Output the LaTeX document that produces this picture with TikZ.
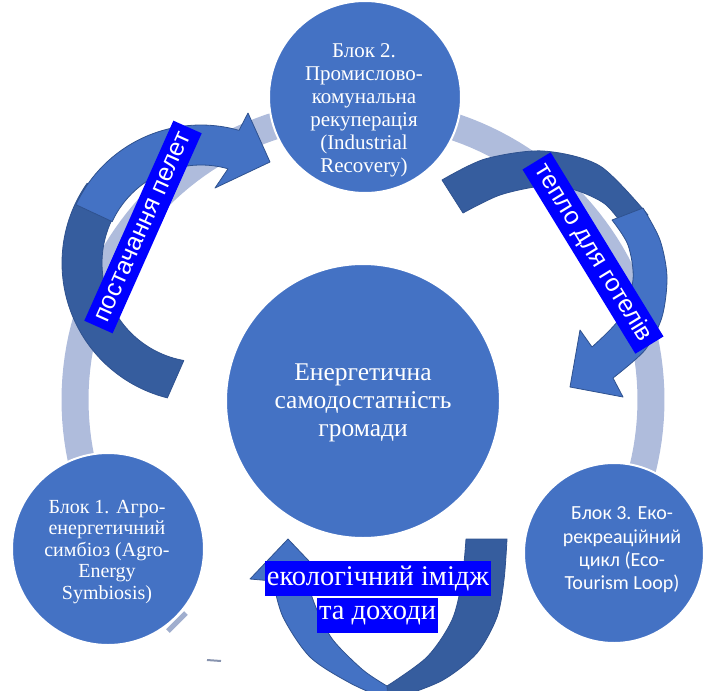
\documentclass[tikz,border=0pt]{standalone}
\usepackage{fontspec}
\setmainfont{Liberation Serif}
\newfontfamily\calib{Carlito}
\newfontfamily\lsans{Liberation Sans}
\definecolor{cblue}{RGB}{68,114,196}
\definecolor{cdark}{RGB}{54,93,158}
\definecolor{cline}{RGB}{47,82,143}
\definecolor{cring}{RGB}{175,188,220}
\definecolor{lblue}{RGB}{0,0,255}
\definecolor{csliv}{RGB}{160,174,206}
\tikzset{
  blk/.style={circle, fill=cblue, draw=white, line width=2pt, inner sep=0pt},
  txt/.style={text=white, align=center},
  lbl/.style={fill=lblue, text=white, inner xsep=2pt, inner ysep=0pt, font=\fontsize{28.5}{30}\selectfont},
  rlbl/.style={lbl, font=\lsans\fontsize{25}{27}\selectfont},
  arrL/.style={fill=cblue, draw=cline, line width=0.8pt, line join=round},
  arrD/.style={fill=cdark, draw=cline, line width=0.8pt, line join=round}
}
\begin{document}
\begin{tikzpicture}[x=1pt,y=-1pt]
\useasboundingbox (0,0) rectangle (705,691);
\clip (0,0) rectangle (705,691);
% background ring
\draw[cring, line width=27pt] plot[domain=150:390, samples=120] ({363+288*cos(\x)},{400+288*sin(\x)});
% ring fragments
\draw[csliv, line width=5pt] (186,613) -- (168,631);
\draw[csliv!85!black, line width=2pt] (207,660) -- (221,661);
% circles
\node[blk, minimum size=192pt] (b2) at (365,97) {};
\node[blk, minimum size=192pt] (b1) at (108,549) {};
\node[blk, minimum size=180pt] (b3) at (614,553) {};
\node[blk, minimum size=274pt] (c) at (363,401) {};
\node[txt, font=\fontsize{21}{23}\selectfont] (t2) at (364,110) {Блок 2.\\Промислово-\\комунальна\\рекуперація\\(Industrial\\Recovery)};
\node[txt, font=\fontsize{20}{21.5}\selectfont] (t1) at (107,552) {Блок 1. Агро-\\енергетичний\\симбіоз (Agro-\\Energy\\Symbiosis)};
\node[txt, font=\calib\fontsize{20}{23.3}\selectfont] (t3) at (622,550) {Блок 3. Еко-\\рекреаційний\\цикл (Eco-\\Tourism Loop)};
\node[txt, font=\fontsize{25.5}{28.3}\selectfont] (tc) at (363,403) {Енергетична\\самодостатність\\громади};
% arrow 1 (left)
\filldraw[arrD] plot[domain=104:215, samples=60] ({201+139*cos(\x)},{263+139*sin(\x)})
  -- plot[domain=215:100, samples=60] ({201+99*cos(\x)},{263+99*sin(\x)}) -- cycle;
\filldraw[arrL] plot[domain=205:286, samples=50] ({201+138*cos(\x)},{263+138*sin(\x)})
  -- (248,113) -- (270,162) -- (215,188)
  -- plot[domain=286:205, samples=50] ({201+98*cos(\x)},{263+98*sin(\x)}) -- cycle;
% arrow 2 (right)
\filldraw[arrD] plot[smooth] coordinates {(442,180) (485,159) (543,151) (600,166) (648,215)}
  -- (625,228)
  -- plot[smooth] coordinates {(625,228) (605,204) (575,190) (543,186) (500,195) (463,213)} -- cycle;
\filldraw[arrL] plot[smooth] coordinates {(643,208) (660,240) (667,277) (662,317) (645,350) (613,378)}
  -- (623,397) -- (570,387) -- (580,330) -- (592,347)
  -- plot[smooth] coordinates {(592,347) (620,318) (633,280) (628,245) (612,220)} -- cycle;
% arrow 3 (bottom)
\filldraw[arrD] (466,539) -- (507,539)
  -- plot[smooth] coordinates {(507,539) (504,580) (497,617) (477,653) (443,680) (400,697) (388,700)}
  -- plot[smooth] coordinates {(387,686) (427,657) (452,620) (462,580) (466,539)} -- cycle;
\filldraw[arrL] (273,581) -- (250,579) -- (288,539) -- (327,580) -- (307,582)
  -- plot[smooth] coordinates {(307,582) (317,610) (333,640) (363,670) (387,686)}
  -- plot[smooth] coordinates {(388,700) (350,683) (310,657) (283,617) (273,581)} -- cycle;
% labels
\node[rlbl, rotate=66, minimum width=219pt, minimum height=31pt] (l1) at (143,227) {постачання пелет};
\node[rlbl, rotate=-58.5, minimum width=216pt, minimum height=33pt] (l2) at (593,253) {тепло для готелів};
\node[lbl, minimum height=35pt] (l3a) at (378,578.5) {екологічний імідж};
\node[lbl, minimum height=35pt] (l3b) at (377.5,615.5) {та доходи};
\end{tikzpicture}
\end{document}
